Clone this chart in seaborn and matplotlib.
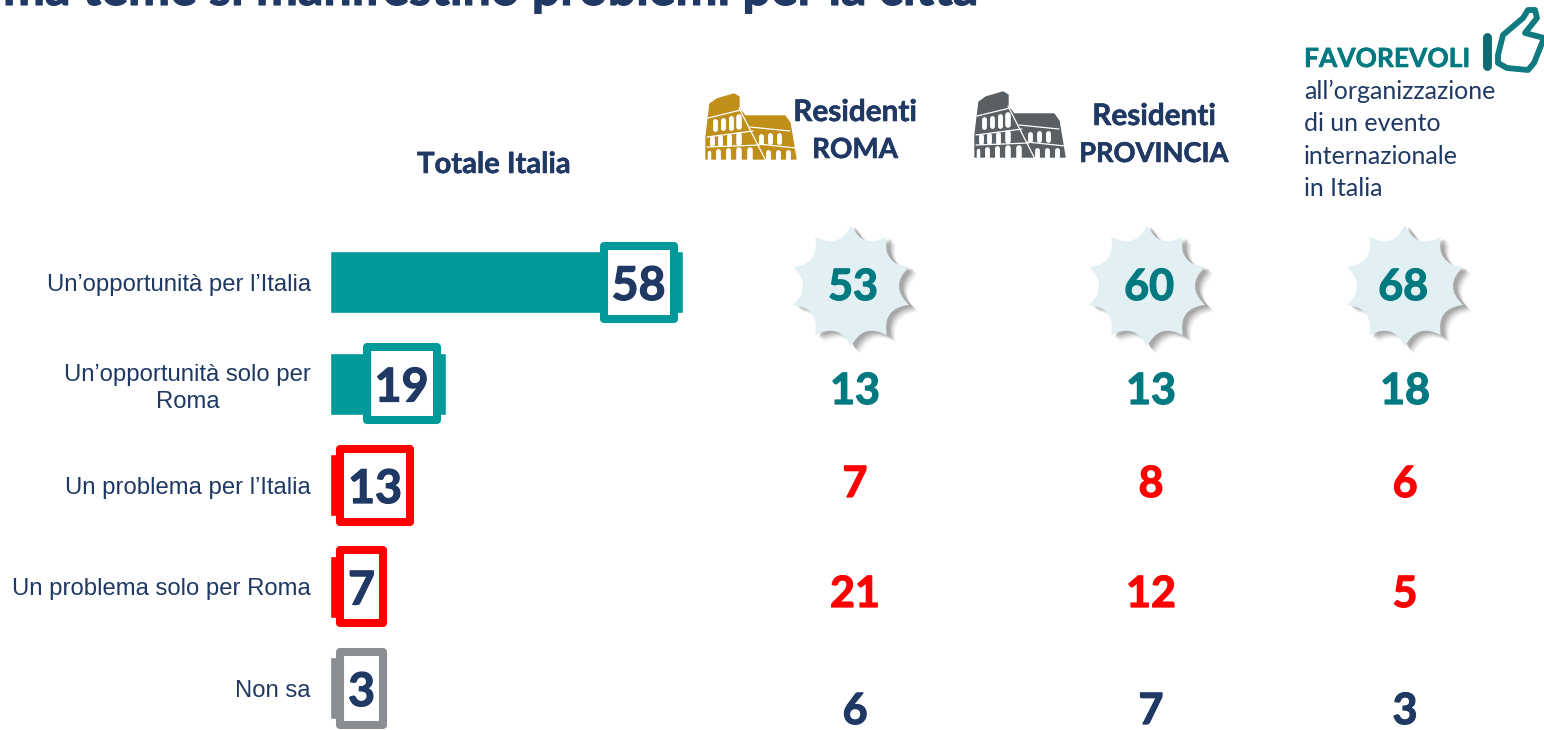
import numpy as np
import pandas as pd
import seaborn as sns
import matplotlib.pyplot as plt
import matplotlib.patheffects as pe
from matplotlib.patches import PathPatch, Rectangle
from matplotlib.path import Path

# Data
categories = ["Un’opportunità per l’Italia", "Un’opportunità solo per\nRoma",
              "Un problema per l’Italia", "Un problema solo per Roma", "Non sa"]
totale_italia = [58, 19, 13, 7, 3]
residenti_roma = [53, 13, 7, 21, 6]
residenti_provincia = [60, 13, 8, 12, 7]
favorevoli = [68, 18, 6, 5, 3]

NAVY = "#1f3864"
TEAL = "#009a9a"
TEAL_TEXT = "#007a80"
RED = "#ff0000"
GREY = "#8a8d91"
bar_colors = [TEAL, TEAL, RED, RED, GREY]
value_colors = [TEAL_TEXT, TEAL_TEXT, RED, RED, NAVY]

W, H = 1544, 730
PX_PER_UNIT = 6.08
ROW_Y = 282.5
ROW_STEP = 101.5
BAR_LEFT = 330
TOP = 231.25

sns.set_theme(style="white")
plt.rcParams["font.family"] = ["Lato", "DejaVu Sans"]

fig = plt.figure(figsize=(W / 100, H / 100), dpi=100)
fig.patch.set_facecolor("white")


def heavy(color, w=0.9):
    # Lato bold is a bit lighter than the slide font
    return [pe.withStroke(linewidth=w, foreground=color)]


# Bars
df = pd.DataFrame({"categoria": categories, "valore": totale_italia})
ax = fig.add_axes([BAR_LEFT / W, 0, (W - BAR_LEFT) / W, (H - TOP) / H], zorder=1)
ax.patch.set_alpha(0)
sns.barplot(data=df, x="valore", y="categoria", hue="categoria", palette=bar_colors,
            legend=False, orient="h", width=0.61, saturation=1, ax=ax)
ax.set_xlim(0, (W - BAR_LEFT) / PX_PER_UNIT)
ax.set_ylim((H - ROW_Y) / ROW_STEP, -0.5)
ax.set_xlabel("")
ax.set_ylabel("")
ax.set_xticks([])
sns.despine(ax=ax, left=True, bottom=True)
ax.tick_params(axis="y", length=0, pad=13.8)
for lab in ax.get_yticklabels():
    lab.set_fontfamily(["Liberation Sans", "DejaVu Sans"])
    lab.set_fontsize(17.2)
    lab.set_color(NAVY)
    lab.set_multialignment("center")
    lab.set_linespacing(1.3)

# Everything else sits on a pixel overlay
ov = fig.add_axes([0, 0, 1, 1], zorder=2)
ov.set_xlim(0, W)
ov.set_ylim(H, 0)
ov.axis("off")
ov.patch.set_alpha(0)

# Value boxes
for i, (v, c) in enumerate(zip(totale_italia, bar_colors)):
    box_w = 78 if v >= 10 else 51
    right = max(BAR_LEFT + v * PX_PER_UNIT - 5, 336 + box_w)
    yc = 282 + i * ROW_STEP
    ov.add_patch(Rectangle((right - box_w + 4, yc - 36.5), box_w - 8, 73, facecolor="white",
                           edgecolor=c, lw=5.8, joinstyle="round"))
    ov.text(right - box_w / 2, yc + 4, str(v), color=NAVY, fontsize=33.5, fontweight="bold",
            ha="center", va="center", path_effects=heavy(NAVY))


def star_path(cx, cy, r=61, inner=0.62):
    verts = [(cx, cy - r)]
    codes = [Path.MOVETO]
    for k in range(10):
        b = np.deg2rad(-90 + 36 * k + 18)
        e = np.deg2rad(-90 + 36 * (k + 1))
        verts += [(cx + inner * r * np.cos(b), cy + inner * r * np.sin(b)),
                  (cx + r * np.cos(e), cy + r * np.sin(e))]
        codes += [Path.CURVE3, Path.CURVE3]
    return Path(verts, codes)


def colosseum(x0, y0, color):
    # icon outline, traced in px relative to its top-left corner
    outline = [(0, 65), (0, 43), (4, 10), (11, 5), (28, 0), (33, 3), (33, 14), (39, 22),
               (79, 22), (84, 29), (90, 65)]
    ov.add_patch(plt.Polygon([(x0 + a, y0 + b) for a, b in outline], closed=True,
                             facecolor=color, edgecolor=color, lw=1, joinstyle="round"))
    lines = [[(33, 14), (60, 67)], [(2, 24), (39, 15)], [(1, 43), (47, 37)], [(1, 53), (54, 51)],
             [(44, 33), (84, 37)], [(52, 50), (90, 54)]]
    for ln in lines:
        ov.plot([x0 + p[0] for p in ln], [y0 + p[1] for p in ln], color="white", lw=0.9,
                solid_capstyle="round")
    arches = [(9, 27, 35, 7), (17, 26, 34, 7), (25, 24, 34, 7), (33, 23, 33, 8),
              (6, 44, 50, 7), (14, 43, 50, 7), (23, 42, 50, 7), (33, 41, 49, 8),
              (3, 58, 66, 5), (12, 57, 66, 7), (22, 56, 66, 7), (33, 56, 66, 8), (44, 56, 66, 8),
              (55, 42, 48, 7), (64, 41, 48, 7), (73, 41, 48, 7),
              (62, 58, 66, 7), (72, 58, 66, 7), (82, 58, 66, 7)]
    for ax_, top, bot, wd in arches:
        ov.plot([x0 + ax_, x0 + ax_], [y0 + top, y0 + bot], color="white", lw=wd * 0.5,
                solid_capstyle="round")


# Value columns: star behind the first row, plain numbers below
col_x = [855, 1151, 1405]
star_x = [851, 1147, 1405]
star_label_x = [853, 1149, 1403]
row_y = [287, 391, 484, 594, 711]
star_fill = "#e2eff3"
for cx, sx, lx, vals in zip(col_x, star_x, star_label_x, [residenti_roma, residenti_provincia, favorevoli]):
    for off, alpha in zip([(9, 7), (8, 6), (7, 5), (6, 4), (5, 3), (4, 2)],
                          [0.07, 0.09, 0.12, 0.15, 0.2, 0.25]):
        ov.add_patch(PathPatch(star_path(sx + off[0], 286 + off[1]), facecolor="#777777",
                               edgecolor="none", alpha=alpha))
    ov.add_patch(PathPatch(star_path(sx, 286), facecolor=star_fill, edgecolor="none"))
    for i, (y, v, c) in enumerate(zip(row_y, vals, value_colors)):
        ov.text(lx if i == 0 else cx, y, str(v), color=c, fontsize=31, fontweight="bold",
                ha="center", va="center", path_effects=heavy(c))

# Headers
header_kw = dict(color=NAVY, fontweight="bold", ha="center", va="center", path_effects=heavy(NAVY, 0.4))
ov.text(494, 165, "Totale Italia", fontsize=21, **header_kw)
ov.text(855, 112, "Residenti", fontsize=21.4, **header_kw)
ov.text(855, 150, "ROMA", fontsize=20, **header_kw)
ov.text(1154, 116, "Residenti", fontsize=21.4, **header_kw)
ov.text(1154, 154, "PROVINCIA", fontsize=19.6, **header_kw)
ov.text(1304, 59, "FAVOREVOLI", color=TEAL_TEXT, fontsize=19, fontweight="bold", ha="left", va="center",
        path_effects=heavy(TEAL_TEXT, 0.4))
ov.text(1304, 140, "all’organizzazione\ndi un evento\ninternazionale\nin Italia", color=NAVY,
        fontsize=18, ha="left", va="center", linespacing=1.5)

# Title, cut off by the top edge as in the source slide
ov.text(3, 5, "ma teme si manifestino problemi per la città", color=NAVY, fontsize=36.1,
        fontweight="bold", ha="left", va="baseline", path_effects=heavy(NAVY, 0.8))

# Icons
colosseum(706, 94, "#bf8f1a")
colosseum(975, 92, "#5a5f63")
ov.plot([1487, 1487], [37, 66], color="#0f6b73", lw=6.4, solid_capstyle="round")
thumb = [(1498, 55), (1503, 35), (1523, 18), (1528, 10), (1535, 10), (1537, 18), (1525, 33),
         (1544, 38), (1534, 63), (1528, 70), (1507, 68), (1498, 63)]
ov.add_patch(plt.Polygon(thumb, closed=True, facecolor="none", edgecolor="#0f7a80", lw=4.2,
                         joinstyle="round", clip_on=True))

fig.savefig("out.png", dpi=100)
